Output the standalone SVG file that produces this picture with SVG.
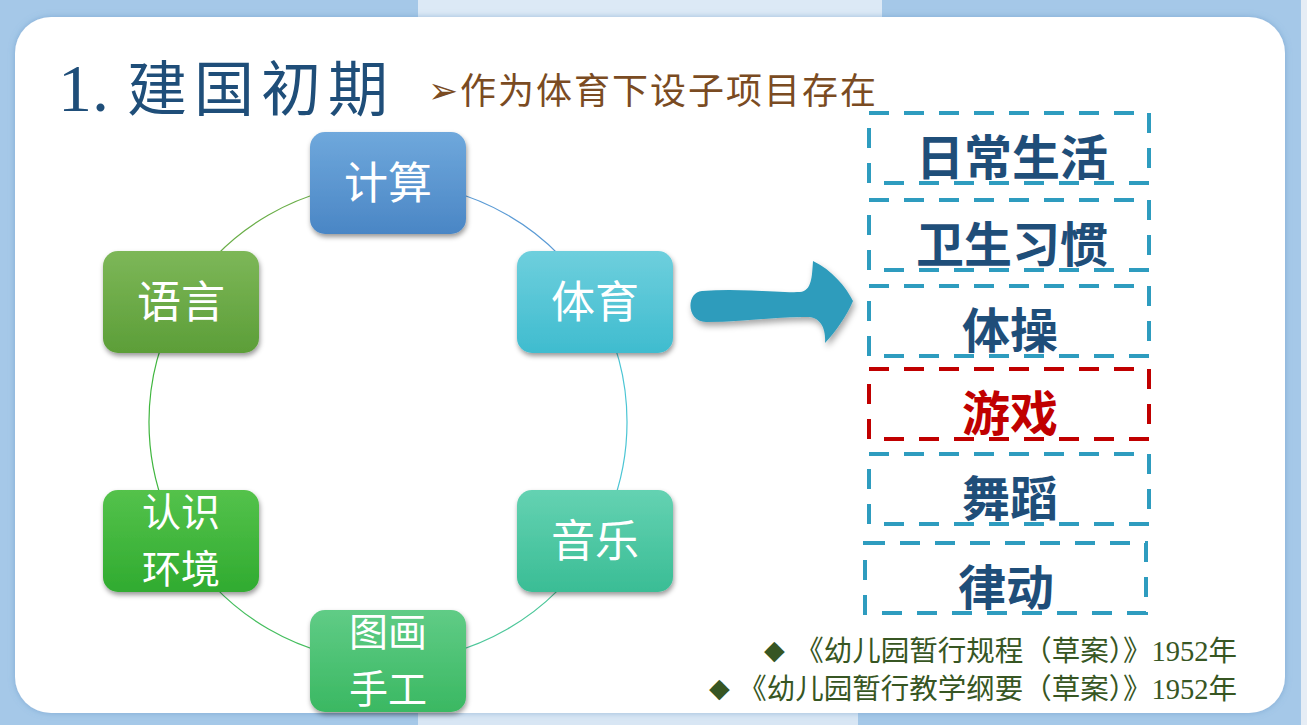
<svg xmlns="http://www.w3.org/2000/svg" width="1307" height="725" viewBox="0 0 1307 725">
<defs>
<style>
.nt{font-family:"Noto Sans CJK SC","Noto Sans",sans-serif;font-size:44px;fill:#fff;text-anchor:middle}
.nt2{font-family:"Noto Sans CJK SC","Noto Sans",sans-serif;font-size:39px;fill:#fff;text-anchor:middle}
.bt{font-family:"Noto Sans CJK SC","Noto Sans",sans-serif;font-size:48px;font-weight:bold;fill:#1F4E79;text-anchor:middle}
.box{fill:none;stroke:#2E9CBF;stroke-width:4;stroke-dasharray:20 15}
.arc{fill:none;stroke-width:1.2}
.ft{font-family:"Liberation Serif","Noto Sans CJK SC",serif;font-size:28.5px;fill:#375623}
.dm{font-family:"DejaVu Sans",sans-serif;font-size:27px;fill:#375623}
</style>
<linearGradient id="g1" x1="0" y1="0" x2="0" y2="1"><stop offset="0" stop-color="#6FA8DC"/><stop offset="1" stop-color="#4A86C5"/></linearGradient>
<linearGradient id="g2" x1="0" y1="0" x2="0" y2="1"><stop offset="0" stop-color="#6ECFDD"/><stop offset="1" stop-color="#3FBCCF"/></linearGradient>
<linearGradient id="g3" x1="0" y1="0" x2="0" y2="1"><stop offset="0" stop-color="#64D2B2"/><stop offset="1" stop-color="#3ABD95"/></linearGradient>
<linearGradient id="g4" x1="0" y1="0" x2="0" y2="1"><stop offset="0" stop-color="#60CC86"/><stop offset="1" stop-color="#3AB862"/></linearGradient>
<linearGradient id="g5" x1="0" y1="0" x2="0" y2="1"><stop offset="0" stop-color="#54C24B"/><stop offset="1" stop-color="#30AB30"/></linearGradient>
<linearGradient id="g6" x1="0" y1="0" x2="0" y2="1"><stop offset="0" stop-color="#7DB758"/><stop offset="1" stop-color="#5C9E38"/></linearGradient>
<filter id="sh" x="-20%" y="-20%" width="140%" height="150%">
<feDropShadow dx="1" dy="3" stdDeviation="2.5" flood-color="#000" flood-opacity="0.4"/>
</filter>
<filter id="ash" x="-20%" y="-20%" width="140%" height="160%">
<feDropShadow dx="2" dy="4" stdDeviation="3" flood-color="#000" flood-opacity="0.35"/>
</filter>
<filter id="psh" x="-5%" y="-5%" width="110%" height="110%">
<feDropShadow dx="0" dy="0" stdDeviation="3" flood-color="#5a8cc0" flood-opacity="0.5"/>
</filter>
</defs>

<g id="background">
<rect x="0" y="0" width="1307" height="725" fill="#A5C8E8"/>
<rect x="418" y="0" width="464" height="20" fill="#DCE9F6"/>
<rect x="418" y="705" width="440" height="20" fill="#D8E6F4"/>
<rect x="1301" y="0" width="6" height="725" fill="#E6EDF5"/>
<rect x="15" y="17" width="1270" height="696" rx="36" ry="36" fill="#fff" filter="url(#psh)"/>
</g>

<g id="title">
<text x="58" y="111" font-family="Liberation Serif,serif" font-size="68" fill="#1F4E79">1.</text>
<text x="127" y="111" font-family="Noto Sans CJK SC,sans-serif" font-size="60" letter-spacing="7" fill="#1F4E79">建国初期</text>
</g>
<g id="subtitle">
<text x="428" y="103" font-family="DejaVu Sans,sans-serif" font-size="36" fill="#7A4B22">➢</text>
<text x="460" y="104" font-family="Noto Sans CJK SC,sans-serif" font-size="36" letter-spacing="2" fill="#7A4B22">作为体育下设子项目存在</text>
</g>

<g id="connectors">
<path class="arc" stroke="#5B9BD5" d="M388,183 A239,239 0 0 1 595,302.5"/>
<path class="arc" stroke="#4BC5D4" d="M595,302.5 A239,239 0 0 1 595,541.5"/>
<path class="arc" stroke="#4DC79A" d="M595,541.5 A239,239 0 0 1 388,661"/>
<path class="arc" stroke="#45BE5E" d="M388,661 A239,239 0 0 1 181,541.5"/>
<path class="arc" stroke="#3FB63E" d="M181,541.5 A239,239 0 0 1 181,302.5"/>
<path class="arc" stroke="#6AAE48" d="M181,302.5 A239,239 0 0 1 388,183"/>
</g>

<g id="node-jisuan">
<rect x="310" y="132" width="156" height="102" rx="15" fill="url(#g1)" filter="url(#sh)"/>
<text class="nt" x="388" y="199">计算</text>
</g>
<g id="node-tiyu">
<rect x="517" y="251" width="156" height="102" rx="15" fill="url(#g2)" filter="url(#sh)"/>
<text class="nt" x="595" y="318">体育</text>
</g>
<g id="node-yinyue">
<rect x="517" y="490" width="156" height="102" rx="15" fill="url(#g3)" filter="url(#sh)"/>
<text class="nt" x="595" y="557">音乐</text>
</g>
<g id="node-tuhua">
<rect x="310" y="610" width="156" height="102" rx="15" fill="url(#g4)" filter="url(#sh)"/>
<text class="nt2" x="388" y="646">图画</text>
<text class="nt2" x="388" y="703">手工</text>
</g>
<g id="node-renshi">
<rect x="103" y="490" width="156" height="102" rx="15" fill="url(#g5)" filter="url(#sh)"/>
<text class="nt2" x="181" y="526">认识</text>
<text class="nt2" x="181" y="583">环境</text>
</g>
<g id="node-yuyan">
<rect x="103" y="251" width="156" height="102" rx="15" fill="url(#g6)" filter="url(#sh)"/>
<text class="nt" x="181" y="318">语言</text>
</g>

<g id="arrow">
<path d="M702,291 C740,288 780,293 800,292 C812,291 812,276 813,261 C832,270 846,287 853,301 C846,317 836,331 825,343 C826,331 822,318 809,317 C780,316 742,322 706,322 C686,322 686,292 702,291 Z" fill="#2E9CBC" filter="url(#ash)"/>
</g>

<g id="box-richang">
<rect class="box" x="869" y="113" width="280" height="70"/>
<text class="bt" x="1012" y="175">日常生活</text>
</g>
<g id="box-weisheng">
<rect class="box" x="869" y="200" width="280" height="70"/>
<text class="bt" x="1012" y="262">卫生习惯</text>
</g>
<g id="box-ticao">
<rect class="box" x="869" y="286" width="280" height="70"/>
<text class="bt" x="1010" y="348">体操</text>
</g>
<g id="box-youxi">
<rect class="box" x="869" y="369" width="280" height="70" style="stroke:#C00000"/>
<text class="bt" x="1010" y="431" style="fill:#C00000">游戏</text>
</g>
<g id="box-wudao">
<rect class="box" x="869" y="454" width="280" height="70"/>
<text class="bt" x="1010" y="516">舞蹈</text>
</g>
<g id="box-lvdong">
<rect class="box" x="865" y="543" width="281" height="70"/>
<text class="bt" x="1006" y="605">律动</text>
</g>

<g id="footnotes">
<text class="dm" x="764" y="659">◆</text>
<text class="ft" x="1237" y="661" text-anchor="end">《幼儿园暂行规程（草案）》1952年</text>
<text class="dm" x="709" y="697">◆</text>
<text class="ft" x="1237" y="699" text-anchor="end">《幼儿园暂行教学纲要（草案）》1952年</text>
</g>
</svg>
